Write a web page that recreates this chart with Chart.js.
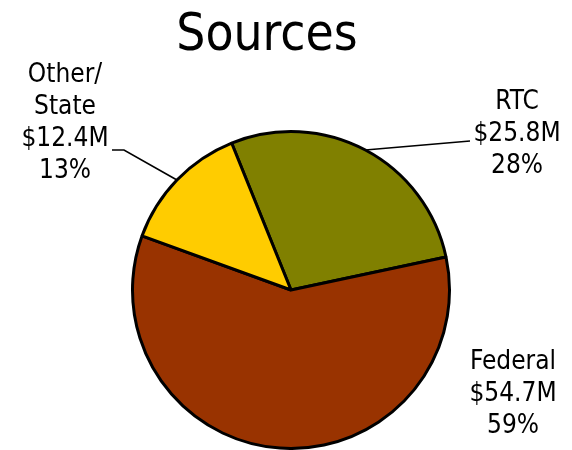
<!DOCTYPE html>
<html>
<head>
<meta charset="utf-8">
<title>Sources</title>
<script src="https://cdn.jsdelivr.net/npm/chart.js@4/dist/chart.umd.min.js"></script>
<style>
  html, body { margin: 0; padding: 0; background: #fff; }
  #wrap { width: 572px; height: 450px; }
</style>
</head>
<body>
<div id="wrap"><canvas id="sourcesChart" width="572" height="450"></canvas></div>
<script>
// funding sources, $ millions (clockwise from the RTC slice)
const sourceNames = ['RTC', 'Federal', 'Other/\nState'];
const sourceAmounts = [25.8, 54.7, 12.4];
const sliceColors = ['#808000', '#993300', '#FFCC00'];

const FONT = "'DejaVu Sans Condensed', 'DejaVu Sans', sans-serif";

// where each label block sits (centre x, first baseline) and optional leader elbow
const labelLayout = [
    { x: 517, y: 109, leader: [[470, 141]] },
    { x: 513, y: 369, leader: null },
    { x: 65, y: 82, leader: [[124, 150], [112, 150]] }
];

const total = sourceAmounts.reduce((a, b) => a + b, 0);

const sliceLabels = {
    id: 'sliceLabels',
    afterDraw(chart) {
        const ctx = chart.ctx;
        const arcs = chart.getDatasetMeta(0).data;
        ctx.save();

        // title
        ctx.fillStyle = '#000';
        ctx.font = '51px ' + FONT;
        ctx.textAlign = 'center';
        ctx.textBaseline = 'alphabetic';
        ctx.fillText('Sources', 267, 50);

        ctx.font = '26px ' + FONT;
        arcs.forEach((arc, i) => {
            const pos = labelLayout[i];
            const pct = Math.round(sourceAmounts[i] / total * 100);
            const lines = sourceNames[i].split('\n')
                .concat(['$' + sourceAmounts[i].toFixed(1) + 'M', pct + '%']);
            lines.forEach((txt, j) => ctx.fillText(txt, pos.x, pos.y + j * 32));

            if (pos.leader) {
                const p = arc.getProps(['x', 'y', 'startAngle', 'endAngle', 'outerRadius'], true);
                const mid = (p.startAngle + p.endAngle) / 2;
                ctx.beginPath();
                ctx.moveTo(p.x + Math.cos(mid) * p.outerRadius, p.y + Math.sin(mid) * p.outerRadius);
                pos.leader.forEach(pt => ctx.lineTo(pt[0], pt[1]));
                ctx.lineWidth = 1.6;
                ctx.strokeStyle = '#000';
                ctx.stroke();
            }
        });
        ctx.restore();
    }
};

new Chart(document.getElementById('sourcesChart'), {
    type: 'pie',
    data: {
        labels: sourceNames,
        datasets: [{
            data: sourceAmounts,
            backgroundColor: sliceColors,
            borderColor: '#000',
            borderWidth: 3
        }]
    },
    options: {
        responsive: false,
        animation: false,
        rotation: -22,
        layout: { padding: { left: 131, top: 130, right: 121, bottom: 0 } },
        plugins: {
            legend: { display: false },
            tooltip: { enabled: false },
            title: { display: false }
        }
    },
    plugins: [sliceLabels]
});
</script>
</body>
</html>
